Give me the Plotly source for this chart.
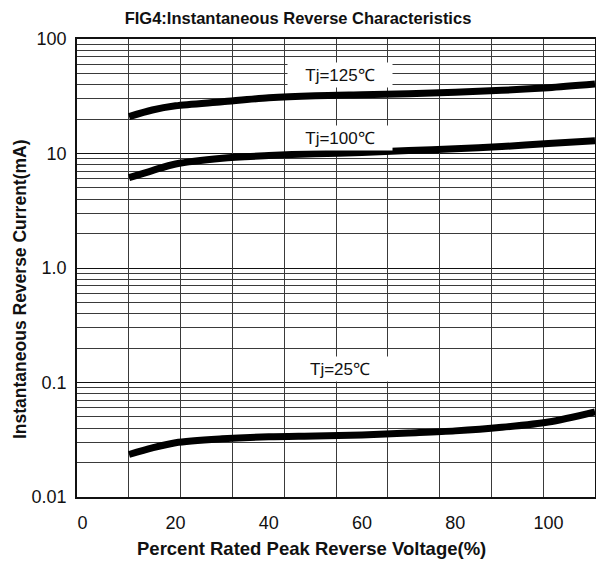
import math
import plotly.graph_objects as go

x_vals = [10, 15, 20, 30, 40, 50, 60, 70, 80, 90, 100, 110]
tj125 = [21.0, 24.0, 26.1, 28.3, 30.7, 32.0, 32.6, 33.2, 34.3, 35.6, 37.6, 40.5]
tj100 = [6.15, 7.1, 8.1, 9.1, 9.6, 9.95, 10.2, 10.6, 11.0, 11.5, 12.2, 12.9]
tj25 = [0.0235, 0.0268, 0.0298, 0.0322, 0.0336, 0.0341, 0.0348, 0.0362, 0.0378, 0.0406, 0.0452, 0.0555]

x_ticks = [0, 20, 40, 60, 80, 100]
y_ticks = [0.01, 0.1, 1, 10, 100]
y_tick_text = ["0.01", "0.1", "1.0", "10", "100"]
y_minor = [m * 10 ** e for e in range(-2, 2) for m in range(2, 10)]

labels = ["Tj=125℃", "Tj=100℃", "Tj=25℃"]
label_x = [55.3, 55.3, 55.3]
label_y = [48.5, 13.6, 0.131]

GRID = "#3a3a3a"
FONT = "Liberation Sans, Arial, sans-serif"

fig = go.Figure()
for y in (tj125, tj100, tj25):
    fig.add_trace(go.Scatter(x=x_vals, y=y, mode="lines",
                             line=dict(color="black", width=7, shape="spline", smoothing=0.8),
                             showlegend=False, hoverinfo="skip"))

# invisible trace to activate the grid x axis
fig.add_trace(go.Scatter(x=[0], y=[1], xaxis="x2", mode="markers", marker=dict(opacity=0),
                         showlegend=False, hoverinfo="skip"))

for t, lx, ly in zip(labels, label_x, label_y):
    fig.add_annotation(x=lx, y=math.log10(ly), yref="y", xref="x", text=t, showarrow=False,
                       bgcolor="white", width=102, height=22,
                       font=dict(family=FONT, size=17, color="#111"))

# axis titles (placed as in the reference)
fig.add_annotation(x=(20 - 77) / 518, y=(497 - 289) / 458, xref="paper", yref="paper",
                   text="<b>Instantaneous Reverse Current(mA)</b>", textangle=-90, showarrow=False,
                   xanchor="center", yanchor="middle", font=dict(family=FONT, size=17.5, color="#111"))
fig.add_annotation(x=(311 - 77) / 518, y=(497 - 548) / 458, xref="paper", yref="paper",
                   text="<b>Percent Rated Peak Reverse Voltage(%)</b>", showarrow=False,
                   xanchor="center", yanchor="middle", font=dict(family=FONT, size=18.5, color="#111"))

fig.update_layout(
    width=596, height=562,
    margin=dict(l=77, r=1, t=39, b=65, autoexpand=False),
    paper_bgcolor="white", plot_bgcolor="white",
    title=dict(text="<b>FIG4:Instantaneous Reverse Characteristics</b>", x=298 / 596, xanchor="center",
               y=1 - 18 / 562, yanchor="middle", font=dict(family=FONT, size=16.5, color="#111")),
    xaxis=dict(range=[-1.16, 110], tickvals=x_ticks, showgrid=False, zeroline=False,
               ticks="", showline=False, automargin=False, ticklabelstandoff=13,
               tickfont=dict(family=FONT, size=18, color="#111")),
    xaxis2=dict(range=[0, 10], overlaying="x", dtick=1, showgrid=True, gridcolor=GRID, gridwidth=1.3,
                showticklabels=False, zeroline=False, ticks="", side="bottom", automargin=False,
                showline=True, linecolor="#111", linewidth=1.5, mirror=True),
    yaxis=dict(type="log", range=[-2, 2], tickvals=y_ticks, ticktext=y_tick_text,
               showgrid=True, gridcolor="#111", gridwidth=1.3, ticks="", zeroline=False,
               minor=dict(tickvals=y_minor, showgrid=True, gridcolor=GRID, gridwidth=1.3, ticks=""),
               showline=True, linecolor="#111", linewidth=1.5, mirror=True, automargin=False,
               ticklabelstandoff=5,
               tickfont=dict(family=FONT, size=18, color="#111")),
)
fig.write_html("out.html", config={"displayModeBar": False},
               post_script="document.body.style.margin='0';")
